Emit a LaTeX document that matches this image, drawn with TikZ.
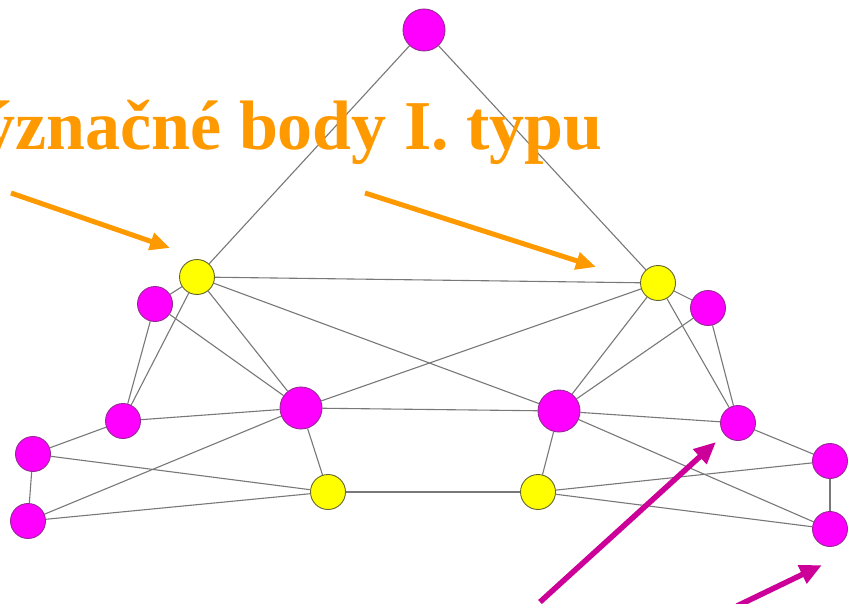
\documentclass[tikz,border=0pt]{standalone}
\usepackage{fontspec}
\setmainfont{Liberation Serif}
\usetikzlibrary{arrows.meta,backgrounds}
\definecolor{mag}{RGB}{255,0,255}
\definecolor{magline}{RGB}{150,40,150}
\definecolor{yel}{RGB}{255,255,0}
\definecolor{yelline}{RGB}{100,100,50}
\definecolor{edgegray}{RGB}{120,120,120}
\definecolor{orng}{RGB}{255,153,0}
\definecolor{pinkarr}{RGB}{204,0,153}
\tikzset{
  mnode/.style={circle,fill=mag,draw=magline,line width=0.9pt,minimum size=35pt,inner sep=0pt},
  bignode/.style={mnode,minimum size=42pt},
  ynode/.style={circle,fill=yel,draw=yelline,line width=0.9pt,minimum size=35pt,inner sep=0pt},
  edge/.style={draw=edgegray,line width=1.1pt},
  oarrow/.style={draw=orng,line width=5pt,-{Triangle[length=20pt,width=17pt]}},
  parrow/.style={draw=pinkarr,line width=5.5pt,-{Triangle[length=22pt,width=19pt]}},
}
\begin{document}
\begin{tikzpicture}[x=1pt,y=-1pt]
\useasboundingbox (0,0) rectangle (854,604);
\clip (0,0) rectangle (854,604);
% nodes
\node[bignode] (top) at (424,30) {};
\node[ynode] (yl) at (197,277) {};
\node[ynode] (yr) at (658,283) {};
\node[mnode] (ml) at (155,304) {};
\node[mnode] (mr) at (708,308) {};
\node[mnode] (l2) at (123,421) {};
\node[mnode] (r2) at (738,423) {};
\node[bignode] (bl) at (301,408) {};
\node[bignode] (br) at (559,411) {};
\node[mnode] (l3) at (33,454) {};
\node[mnode] (l4) at (28,521) {};
\node[mnode] (r3) at (830,461) {};
\node[mnode] (r4) at (830,529) {};
\node[ynode] (ybl) at (328,492) {};
\node[ynode] (ybr) at (538,492) {};
% edges
\begin{scope}[on background layer]
\fill[white] (0,0) rectangle (854,604);
\draw[edge] (top) -- (yl);
\draw[edge] (top) -- (yr);
\draw[edge] (yl) -- (yr);
\draw[edge] (yl) -- (ml);
\draw[edge] (yl) -- (l2);
\draw[edge] (yl) -- (bl);
\draw[edge] (yl) -- (br);
\draw[edge] (ml) -- (l2);
\draw[edge] (ml) -- (bl);
\draw[edge] (l2) -- (bl);
\draw[edge] (l2) -- (l3);
\draw[edge] (l3) -- (l4);
\draw[edge] (l3) -- (ybl);
\draw[edge] (l4) -- (ybl);
\draw[edge] (l4) -- (bl);
\draw[edge] (bl) -- (ybl);
\draw[edge] (bl) -- (br);
\draw[edge] (bl) -- (yr);
\draw[edge] (ybl) -- (ybr);
\draw[edge] (yr) -- (mr);
\draw[edge] (yr) -- (br);
\draw[edge] (yr) -- (r2);
\draw[edge] (mr) -- (br);
\draw[edge] (mr) -- (r2);
\draw[edge] (br) -- (r2);
\draw[edge] (br) -- (r4);
\draw[edge] (br) -- (ybr);
\draw[edge] (r2) -- (r3);
\draw[edge] (r3) -- (ybr);
\draw[edge] (r3) -- (r4);
\draw[edge] (ybr) -- (r4);
\end{scope}
% title
\node[anchor=base east,inner sep=0pt,text=orng,font=\fontsize{70}{72}\selectfont\bfseries] (title) at (603,150) {význačné body I. typu};
% arrows
\coordinate (oa1s) at (11,193);
\coordinate (oa1e) at (170,248);
\coordinate (oa2s) at (365,193);
\coordinate (oa2e) at (596,267);
\coordinate (pa1s) at (540,602);
\coordinate (pa1e) at (716,442);
\coordinate (pa2s) at (737,606);
\coordinate (pa2e) at (822,565);
\draw[oarrow] (oa1s) -- (oa1e);
\draw[oarrow] (oa2s) -- (oa2e);
\draw[parrow] (pa1s) -- (pa1e);
\draw[parrow] (pa2s) -- (pa2e);
\end{tikzpicture}
\end{document}
